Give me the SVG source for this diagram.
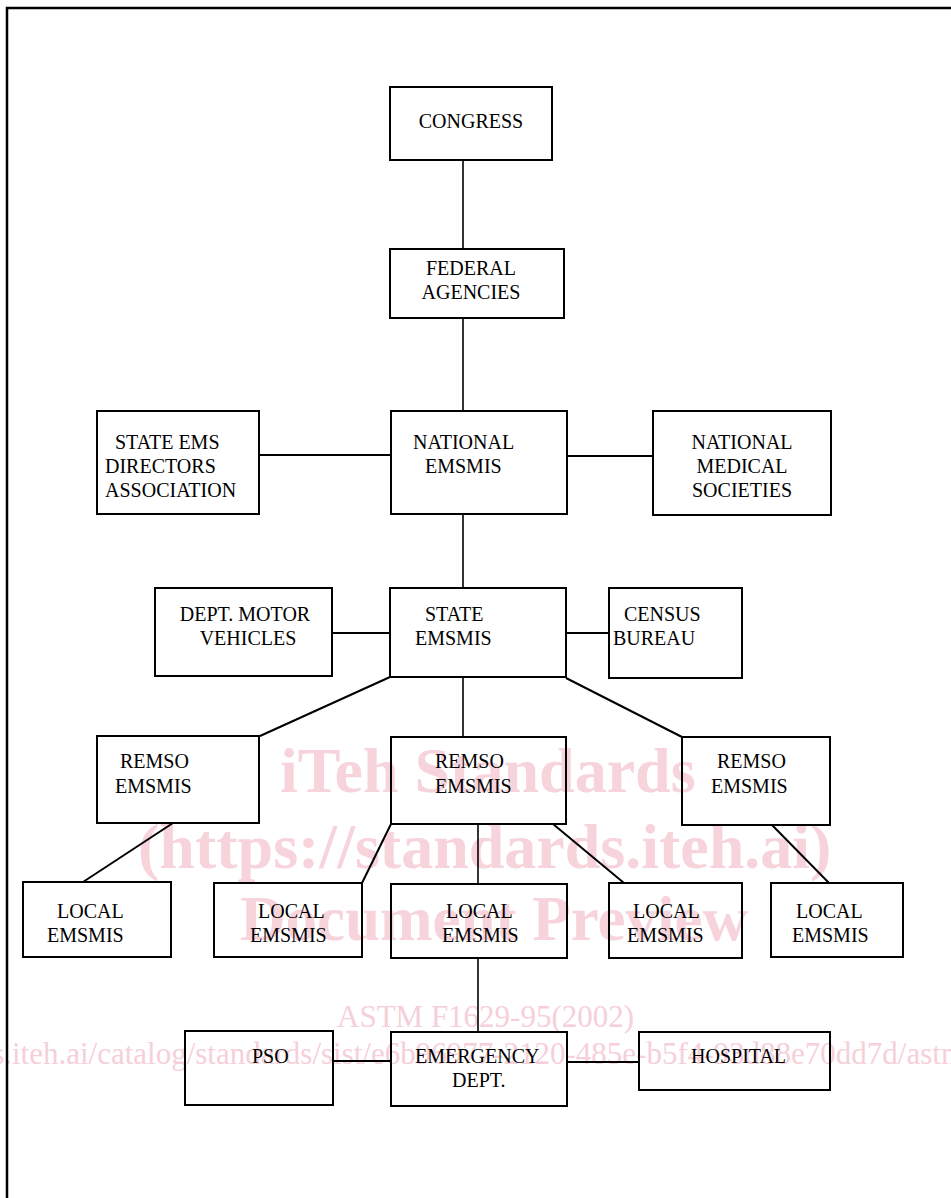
<svg xmlns="http://www.w3.org/2000/svg" width="951" height="1198" viewBox="0 0 951 1198">
<style>
.bx{fill:none;stroke:#000;stroke-width:2}
.ln{fill:none;stroke:#000;stroke-width:2}
.lt{fill:none;stroke:#000;stroke-width:1.6}
.t{font-family:"Liberation Serif","Times New Roman",serif;font-size:20px;fill:#000}
.c{text-anchor:middle}
.wm{font-family:"Liberation Serif","Times New Roman",serif;font-weight:bold;font-size:64px;fill:#f7d3db}
.wm2{font-family:"Liberation Serif","Times New Roman",serif;font-size:31px;fill:#f6d0d9}
</style>
<rect x="0" y="0" width="951" height="1198" fill="#fff"/>
<g id="watermark">
<text class="wm" x="280" y="792">iTeh Standards</text>
<text class="wm" x="138" y="868">(https://standards.iteh.ai)</text>
<text class="wm" x="240" y="940" style="font-size:63px">Document Preview</text>
<text class="wm2" x="337" y="1027">ASTM F1629-95(2002)</text>
<text class="wm2" x="-199" y="1064">https://standards.iteh.ai/catalog/standards/sist/e6b96977-2120-485e-b5f4-93d88e70dd7d/astm-f1629-952002</text>
</g>
<path id="frame" d="M7 1198 V8 H951" fill="none" stroke="#000" stroke-width="2.5"/>
<g id="connectors">
<line class="lt" x1="463" y1="160" x2="463" y2="249"/>
<line class="lt" x1="463" y1="318" x2="463" y2="411"/>
<line class="ln" x1="259" y1="455" x2="391" y2="455"/>
<line class="ln" x1="567" y1="456" x2="653" y2="456"/>
<line class="lt" x1="463" y1="514" x2="463" y2="588"/>
<line class="ln" x1="332" y1="633" x2="390" y2="633"/>
<line class="ln" x1="566" y1="633" x2="609" y2="633"/>
<line class="ln" x1="390" y1="677" x2="260" y2="736"/>
<line class="lt" x1="463" y1="677" x2="463" y2="737"/>
<line class="ln" x1="566" y1="678" x2="682" y2="737"/>
<line class="ln" x1="173" y1="823" x2="83" y2="882"/>
<line class="ln" x1="391" y1="824" x2="362" y2="883"/>
<line class="lt" x1="478" y1="824" x2="478" y2="884"/>
<line class="ln" x1="553" y1="824" x2="624" y2="883"/>
<line class="ln" x1="772" y1="825" x2="829" y2="883"/>
<line class="lt" x1="478" y1="958" x2="478" y2="1032"/>
<line class="ln" x1="333" y1="1061" x2="391" y2="1061"/>
<line class="ln" x1="567" y1="1062" x2="639" y2="1062"/>
</g>
<g id="congress"><rect class="bx" x="390" y="87" width="162" height="73"/><text class="t c" x="471" y="128">CONGRESS</text></g>
<g id="federal"><rect class="bx" x="390" y="249" width="174" height="69"/><text class="t c" x="471" y="275">FEDERAL</text><text class="t c" x="471" y="299">AGENCIES</text></g>
<g id="state-ems-directors"><rect class="bx" x="97" y="411" width="162" height="103"/><text class="t" x="115" y="449">STATE EMS</text><text class="t" x="105" y="473">DIRECTORS</text><text class="t" x="105" y="497">ASSOCIATION</text></g>
<g id="national-emsmis"><rect class="bx" x="391" y="411" width="176" height="103"/><text class="t" x="413" y="449">NATIONAL</text><text class="t" x="425" y="473">EMSMIS</text></g>
<g id="national-medical"><rect class="bx" x="653" y="411" width="178" height="104"/><text class="t c" x="742" y="449">NATIONAL</text><text class="t c" x="742" y="473">MEDICAL</text><text class="t c" x="742" y="497">SOCIETIES</text></g>
<g id="dept-motor"><rect class="bx" x="155" y="588" width="177" height="88"/><text class="t c" x="245" y="621">DEPT. MOTOR</text><text class="t c" x="248" y="645">VEHICLES</text></g>
<g id="state-emsmis"><rect class="bx" x="390" y="588" width="176" height="89"/><text class="t" x="425" y="621">STATE</text><text class="t" x="415" y="645">EMSMIS</text></g>
<g id="census"><rect class="bx" x="609" y="588" width="133" height="90"/><text class="t" x="624" y="621">CENSUS</text><text class="t" x="613" y="645">BUREAU</text></g>
<g id="remso-left"><rect class="bx" x="97" y="736" width="162" height="87"/><text class="t" x="120" y="768">REMSO</text><text class="t" x="115" y="793">EMSMIS</text></g>
<g id="remso-mid"><rect class="bx" x="391" y="737" width="175" height="87"/><text class="t" x="435" y="768">REMSO</text><text class="t" x="435" y="793">EMSMIS</text></g>
<g id="remso-right"><rect class="bx" x="682" y="737" width="148" height="88"/><text class="t" x="717" y="768">REMSO</text><text class="t" x="711" y="793">EMSMIS</text></g>
<g id="local1"><rect class="bx" x="23" y="882" width="148" height="75"/><text class="t" x="57" y="918">LOCAL</text><text class="t" x="47" y="942">EMSMIS</text></g>
<g id="local2"><rect class="bx" x="214" y="883" width="148" height="74"/><text class="t" x="258" y="918">LOCAL</text><text class="t" x="250" y="942">EMSMIS</text></g>
<g id="local3"><rect class="bx" x="391" y="884" width="176" height="74"/><text class="t" x="446" y="918">LOCAL</text><text class="t" x="442" y="942">EMSMIS</text></g>
<g id="local4"><rect class="bx" x="609" y="883" width="133" height="75"/><text class="t" x="633" y="918">LOCAL</text><text class="t" x="627" y="942">EMSMIS</text></g>
<g id="local5"><rect class="bx" x="771" y="883" width="132" height="74"/><text class="t" x="796" y="918">LOCAL</text><text class="t" x="792" y="942">EMSMIS</text></g>
<g id="pso"><rect class="bx" x="185" y="1031" width="148" height="74"/><text class="t" x="252" y="1063">PSO</text></g>
<g id="emergency"><rect class="bx" x="391" y="1032" width="176" height="74"/><text class="t" x="415" y="1063">EMERGENCY</text><text class="t" x="452" y="1087">DEPT.</text></g>
<g id="hospital"><rect class="bx" x="639" y="1032" width="191" height="58"/><text class="t" x="691" y="1063">HOSPITAL</text></g>
</svg>
